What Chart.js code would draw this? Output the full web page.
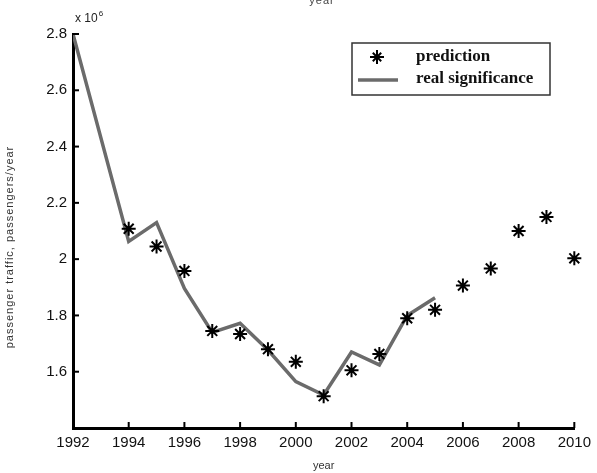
<!DOCTYPE html>
<html>
<head>
<meta charset="utf-8">
<script src="https://cdn.jsdelivr.net/npm/chart.js@4.4.1/dist/chart.umd.min.js"></script>
<style>
  html, body { margin: 0; padding: 0; background: #fff; }
  #wrap { width: 597px; height: 473px; }
</style>
</head>
<body>
<div id="wrap"><canvas id="myChart" width="597" height="473"></canvas></div>
<script>
  // real values, 1992..2005 (1993 not marked in the figure)
  var realYears = [1992, 1994, 1995, 1996, 1997, 1998, 1999, 2000, 2001, 2002, 2003, 2004, 2005];
  var realValues = [2.80, 2.063, 2.13, 1.896, 1.74, 1.772, 1.677, 1.565, 1.517, 1.67, 1.624, 1.80, 1.863];

  // model prediction, 1994..2010
  var predYears = [1994, 1995, 1996, 1997, 1998, 1999, 2000, 2001, 2002, 2003, 2004, 2005, 2006, 2007, 2008, 2009, 2010];
  var predValues = [2.108, 2.045, 1.958, 1.745, 1.734, 1.68, 1.635, 1.513, 1.605, 1.663, 1.79, 1.82, 1.906, 1.967, 2.10, 2.15, 2.003];

  var yearTicks = [1992, 1994, 1996, 1998, 2000, 2002, 2004, 2006, 2008, 2010];
  var valueTicks = [1.6, 1.8, 2.0, 2.2, 2.4, 2.6, 2.8];

  function toPoints(xs, ys) {
    return xs.map(function (x, i) { return { x: x, y: ys[i] * 1e6 }; });
  }

  // matlab style extras: inward ticks, exponent label, legend box, titles
  var extras = {
    id: 'extras',
    afterDraw: function (chart) {
      var c = chart.ctx;
      var xs = chart.scales.x, ys = chart.scales.y;
      var a = chart.chartArea;
      c.save();
      c.strokeStyle = '#000';
      c.lineWidth = 2;
      yearTicks.forEach(function (t) {
        var px = xs.getPixelForValue(t);
        c.beginPath(); c.moveTo(px, a.bottom); c.lineTo(px, a.bottom - 6); c.stroke();
      });
      valueTicks.forEach(function (t) {
        var py = ys.getPixelForValue(t * 1e6);
        c.beginPath(); c.moveTo(a.left, py); c.lineTo(a.left + 6, py); c.stroke();
      });

      // x 10^6
      c.fillStyle = '#222';
      c.textBaseline = 'alphabetic';
      c.textAlign = 'left';
      c.font = '12px "Liberation Sans", Arial, sans-serif';
      c.fillText('x 10', a.left + 2, a.top - 12);
      var w = c.measureText('x 10').width;
      c.font = '8px "Liberation Sans", Arial, sans-serif';
      c.fillText('6', a.left + 3 + w, a.top - 18);

      // cut off title at the very top
      c.font = '11px "Liberation Sans", Arial, sans-serif';
      c.textAlign = 'center';
      c.textBaseline = 'middle';
      c.fillStyle = '#444';
      c.letterSpacing = '1px';
      c.fillText('year', 322, 1);

      // y axis title, rotated
      c.save();
      c.translate(10, 247);
      c.rotate(-Math.PI / 2);
      c.fillStyle = '#333';
      c.font = '11px "Liberation Sans", Arial, sans-serif';
      c.letterSpacing = '1px';
      c.fillText('passenger traffic, passengers/year', 0, 0);
      c.restore();
      c.letterSpacing = '0px';

      // legend box
      var bx = 352, by = 43, bw = 198, bh = 52;
      c.fillStyle = '#fff';
      c.fillRect(bx, by, bw, bh);
      c.strokeStyle = '#333';
      c.lineWidth = 1.5;
      c.strokeRect(bx, by, bw, bh);

      // star marker
      var sx = 377, sy = 57, r = 7;
      c.strokeStyle = '#000';
      c.lineWidth = 2;
      c.beginPath();
      c.moveTo(sx - r, sy); c.lineTo(sx + r, sy);
      c.moveTo(sx, sy - r); c.lineTo(sx, sy + r);
      var d = r * 0.6;
      c.moveTo(sx - d, sy - d); c.lineTo(sx + d, sy + d);
      c.moveTo(sx - d, sy + d); c.lineTo(sx + d, sy - d);
      c.stroke();

      // line sample
      c.strokeStyle = '#6b6b6b';
      c.lineWidth = 3.5;
      c.beginPath(); c.moveTo(358, 80); c.lineTo(398, 80); c.stroke();

      c.fillStyle = '#111';
      c.textAlign = 'left';
      c.textBaseline = 'middle';
      c.font = 'bold 17px "Liberation Serif", "Times New Roman", serif';
      c.fillText('prediction', 416, 57);
      c.fillText('real significance', 416, 79);
      c.restore();
    }
  };

  var ctx = document.getElementById('myChart').getContext('2d');
  var myChart = new Chart(ctx, {
    type: 'line',
    data: {
      datasets: [{
        label: 'prediction',
        data: toPoints(predYears, predValues),
        showLine: false,
        pointStyle: 'star',
        pointRadius: 7,
        pointBorderWidth: 2,
        pointBorderColor: '#000',
        pointBackgroundColor: '#000',
        clip: false,
        order: 0
      }, {
        label: 'real significance',
        data: toPoints(realYears, realValues),
        borderColor: '#6b6b6b',
        borderWidth: 3.5,
        pointRadius: 0,
        tension: 0,
        fill: false,
        order: 1
      }]
    },
    options: {
      responsive: false,
      animation: false,
      layout: { padding: { left: 0, right: 21, top: 34, bottom: 0 } },
      plugins: {
        legend: { display: false },
        tooltip: { enabled: false }
      },
      scales: {
        x: {
          type: 'linear',
          min: 1992,
          max: 2010,
          afterBuildTicks: function (axis) {
            axis.ticks = yearTicks.map(function (v) { return { value: v }; });
          },
          afterFit: function (axis) { axis.height = 45; },
          grid: { display: false, drawTicks: false },
          border: { display: true, color: '#000', width: 3 },
          ticks: {
            color: '#111',
            padding: 6,
            maxRotation: 0,
            font: { family: '"Liberation Sans", Arial, sans-serif', size: 15 },
            callback: function (v) { return String(v); }
          },
          title: {
            display: true,
            text: 'year',
            color: '#333',
            padding: { top: 1, bottom: 0 },
            font: { family: '"Liberation Sans", Arial, sans-serif', size: 11 }
          }
        },
        y: {
          min: 1400000,
          max: 2800000,
          afterBuildTicks: function (axis) {
            axis.ticks = valueTicks.map(function (v) { return { value: v * 1e6 }; });
          },
          afterFit: function (axis) { axis.width = 73; },
          grid: { display: false, drawTicks: false },
          border: { display: true, color: '#000', width: 3 },
          ticks: {
            color: '#111',
            padding: 6,
            font: { family: '"Liberation Sans", Arial, sans-serif', size: 15 },
            callback: function (v) { return String(+(v / 1e6).toFixed(1)); }
          }
        }
      }
    },
    plugins: [extras]
  });
</script>
</body>
</html>
